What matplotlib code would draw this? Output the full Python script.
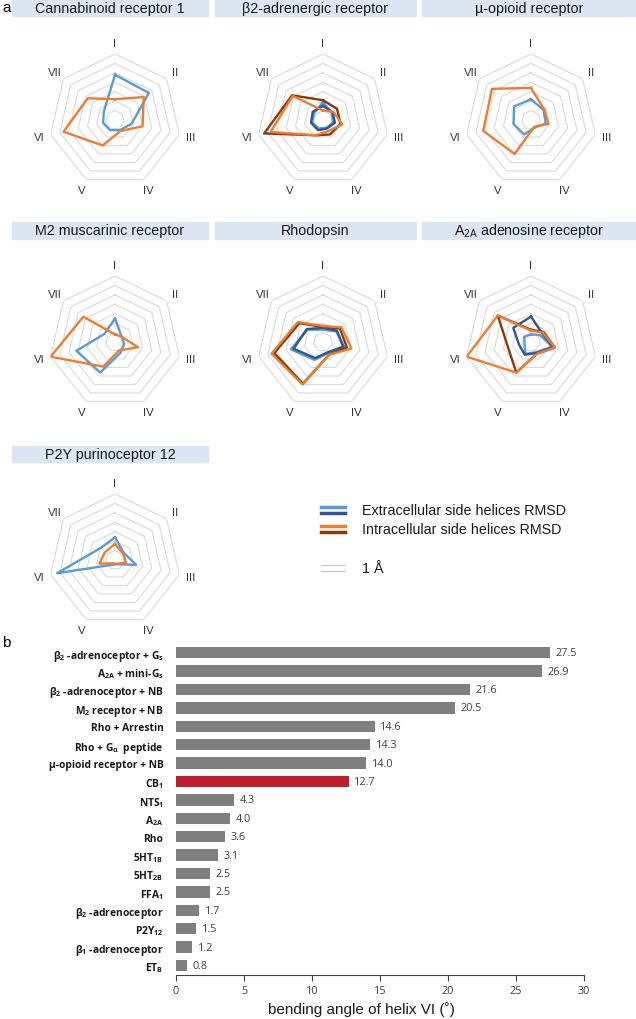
import numpy as np
import matplotlib
matplotlib.use('Agg')
import matplotlib.pyplot as plt
from matplotlib.patches import Rectangle
from matplotlib.lines import Line2D

plt.rcParams['font.family'] = ['Liberation Sans', 'DejaVu Sans']
plt.rcParams['mathtext.default'] = 'regular'

# radar data, helices I..VII (RMSD, A)
helices = ['I', 'II', 'III', 'IV', 'V', 'VI', 'VII']

cb1_ext = [4.8, 4.6, 1.8, 1.2, 1.2, 1.3, 1.5]
cb1_int = [2.2, 3.9, 3.0, 1.3, 3.0, 5.6, 3.7]

b2_ext_a = [1.9, 1.2, 1.1, 0.9, 1.0, 1.2, 1.2]
b2_ext_b = [1.5, 1.3, 1.3, 1.0, 1.2, 1.3, 1.4]
b2_int_b = [2.1, 1.9, 1.9, 1.7, 1.8, 6.4, 4.2]
b2_int_a = [1.0, 1.4, 2.1, 1.3, 1.8, 5.7, 4.1]

mor_ext = [2.2, 1.7, 1.6, 0.9, 1.7, 1.9, 2.3]
mor_int = [3.4, 1.8, 1.9, 0.8, 4.0, 5.2, 5.3]

m2_ext = [2.5, 0.9, 1.0, 1.3, 3.6, 4.2, 1.4]
m2_int = [0.8, 0.9, 2.5, 1.0, 2.9, 7.0, 4.3]

rho_ext_a = [1.3, 1.8, 2.3, 1.3, 2.1, 3.5, 2.1]
rho_ext_b = [1.5, 1.9, 2.2, 1.2, 1.9, 3.2, 2.2]
rho_int_b = [1.6, 2.3, 2.6, 1.5, 4.9, 5.3, 3.2]
rho_int_a = [1.7, 2.5, 3.1, 1.5, 5.0, 5.6, 3.4]

a2a_ext_a = [0.8, 1.2, 2.3, 1.2, 1.4, 0.7, 0.9]
a2a_ext_b = [2.7, 1.5, 2.4, 1.3, 1.5, 1.3, 2.4]
a2a_int_b = [1.3, 1.7, 2.6, 1.4, 3.6, 2.5, 4.5]
a2a_int_a = [1.2, 1.6, 2.6, 1.4, 3.6, 7.0, 4.5]

p2y_ext = [2.4, 1.2, 2.3, 0.5, 0.55, 6.3, 2.0]
p2y_int = [1.7, 1.1, 1.2, 0.45, 0.4, 1.7, 1.35]

# bar data
bar_labels = ['β$_2$ -adrenoceptor + G$_s$', 'A$_{2A}$ + mini-G$_s$',
              'β$_2$ -adrenoceptor + NB', 'M$_2$ receptor + NB',
              'Rho + Arrestin', 'Rho + G$_α$  peptide', 'μ-opioid receptor + NB',
              'CB$_1$', 'NTS$_1$', 'A$_{2A}$', 'Rho', '5HT$_{1B}$', '5HT$_{2B}$',
              'FFA$_1$', 'β$_2$ -adrenoceptor', 'P2Y$_{12}$', 'β$_1$ -adrenoceptor', 'ET$_B$']
bend_angle = [27.5, 26.9, 21.6, 20.5, 14.6, 14.3, 14.0, 12.7, 4.3, 4.0,
              3.6, 3.1, 2.5, 2.5, 1.7, 1.5, 1.2, 0.8]

LB = '#5B9BD5'
DB = '#2F5597'
OR = '#ED7D31'
BR = '#843C0C'
GRID = '#D9D9D9'

W, H = 636, 1020
fig = plt.figure(figsize=(W / 100, H / 100), dpi=100)

R = 66
theta = np.linspace(0, 2 * np.pi, 8)


def radar(cx, cy, series):
    ax = fig.add_axes([(cx - R) / W, 1 - (cy + R) / H, 2 * R / W, 2 * R / H],
                      projection='polar')
    ax.set_theta_offset(np.pi / 2)
    ax.set_theta_direction(-1)
    ax.set_ylim(0, 7)
    ax.set_axis_off()
    for k in range(1, 8):
        ax.plot(theta, [k] * 8, color=GRID, lw=0.8, zorder=1)
    for i, h in enumerate(helices):
        ax.text(theta[i], 8.2, h, ha='center', va='center', fontsize=8.2,
                color='#333333', clip_on=False)
    for vals, col in series:
        ax.plot(theta, vals + vals[:1], color=col, lw=1.7, zorder=3)
    return ax


def title_box(x0, x1, y0, y1, txt):
    fig.patches.append(Rectangle((x0 / W, 1 - y1 / H), (x1 - x0) / W, (y1 - y0) / H,
                                 transform=fig.transFigure, color='#DCE6F2', zorder=0))
    fig.text((x0 + x1) / 2 / W, 1 - (y0 + y1) / 2 / H, txt, ha='center', va='center',
             fontsize=10.3, color='#1a1a1a')


cols = [(12, 208), (215, 416), (422, 636)]
cxs = [115, 323, 531]

title_box(*cols[0], 0, 17, 'Cannabinoid receptor 1')
title_box(*cols[1], 0, 17, 'β2-adrenergic receptor')
title_box(*cols[2], 0, 17, 'µ-opioid receptor')
title_box(*cols[0], 223, 240, 'M2 muscarinic receptor')
title_box(*cols[1], 223, 240, 'Rhodopsin')
title_box(*cols[2], 223, 240, 'A$_{2A}$ adenosine receptor')
title_box(*cols[0], 447, 463, 'P2Y purinoceptor 12')

radar(cxs[0], 121, [(cb1_ext, LB), (cb1_int, OR)])
radar(cxs[1], 121, [(b2_ext_a, LB), (b2_ext_b, DB), (b2_int_b, BR), (b2_int_a, OR)])
radar(cxs[2], 121, [(mor_ext, LB), (mor_int, OR)])
radar(cxs[0], 343, [(m2_ext, LB), (m2_int, OR)])
radar(cxs[1], 343, [(rho_ext_a, LB), (rho_ext_b, DB), (rho_int_b, BR), (rho_int_a, OR)])
radar(cxs[2], 343, [(a2a_ext_a, LB), (a2a_ext_b, DB), (a2a_int_b, BR), (a2a_int_a, OR)])
radar(cxs[0], 561, [(p2y_ext, LB), (p2y_int, OR)])

# legend
def leg_line(y, col, lw):
    fig.lines.append(Line2D([321 / W, 345 / W], [1 - y / H, 1 - y / H],
                            transform=fig.transFigure, color=col, lw=lw))

leg_line(508, LB, 2.5)
leg_line(514, DB, 2.5)
leg_line(527, OR, 2.5)
leg_line(533, BR, 2.5)
leg_line(566, '#C8C8C8', 0.9)
leg_line(572, '#C8C8C8', 0.9)
fig.text(362 / W, 1 - 511 / H, 'Extracellular side helices RMSD', va='center', fontsize=10.3, color='#1a1a1a')
fig.text(362 / W, 1 - 530 / H, 'Intracellular side helices RMSD', va='center', fontsize=10.3, color='#1a1a1a')
fig.text(362 / W, 1 - 569 / H, '1 Å', va='center', fontsize=10.3, color='#1a1a1a')

fig.text(2 / W, 1 - 8 / H, 'a', va='center', fontsize=11)
fig.text(2 / W, 1 - 643 / H, 'b', va='center', fontsize=11)

# bar chart
ax = fig.add_axes([176 / W, 1 - 976 / H, 408 / W, (976 - 642.6) / H])
ypos = np.arange(len(bend_angle))
colors = ['#7F7F7F'] * len(bend_angle)
colors[bar_labels.index('CB$_1$')] = '#BE1E2D'
bars = ax.barh(ypos, bend_angle, height=0.62, color=colors)
ax.bar_label(bars, fmt='%.1f', padding=4, fontsize=7.8, color='#404040', family='Open Sans')
ax.set_ylim(17.52, -0.6)
ax.set_xlim(0, 30)
ax.set_yticks(ypos)
ax.set_yticklabels(bar_labels, fontsize=7.4, fontweight='bold', family='Open Sans', color='#1a1a1a')
ax.tick_params(axis='y', length=0, pad=9)
ax.set_xticks([0, 5, 10, 15, 20, 25, 30])
ax.tick_params(axis='x', direction='out', length=4, width=0.8, color='#404040',
               labelsize=7.8, labelcolor='#404040')
for lab in ax.get_xticklabels():
    lab.set_family('Open Sans')
for s in ['top', 'right', 'left']:
    ax.spines[s].set_visible(False)
ax.spines['bottom'].set_color('#404040')
ax.spines['bottom'].set_linewidth(0.8)
ax.set_xlabel('bending angle of helix VI (˚)', fontsize=11, color='#1a1a1a')
ax.xaxis.label.set_va('center')
ax.xaxis.set_label_coords(0.455, -0.102)

fig.savefig('out.png', dpi=100)
